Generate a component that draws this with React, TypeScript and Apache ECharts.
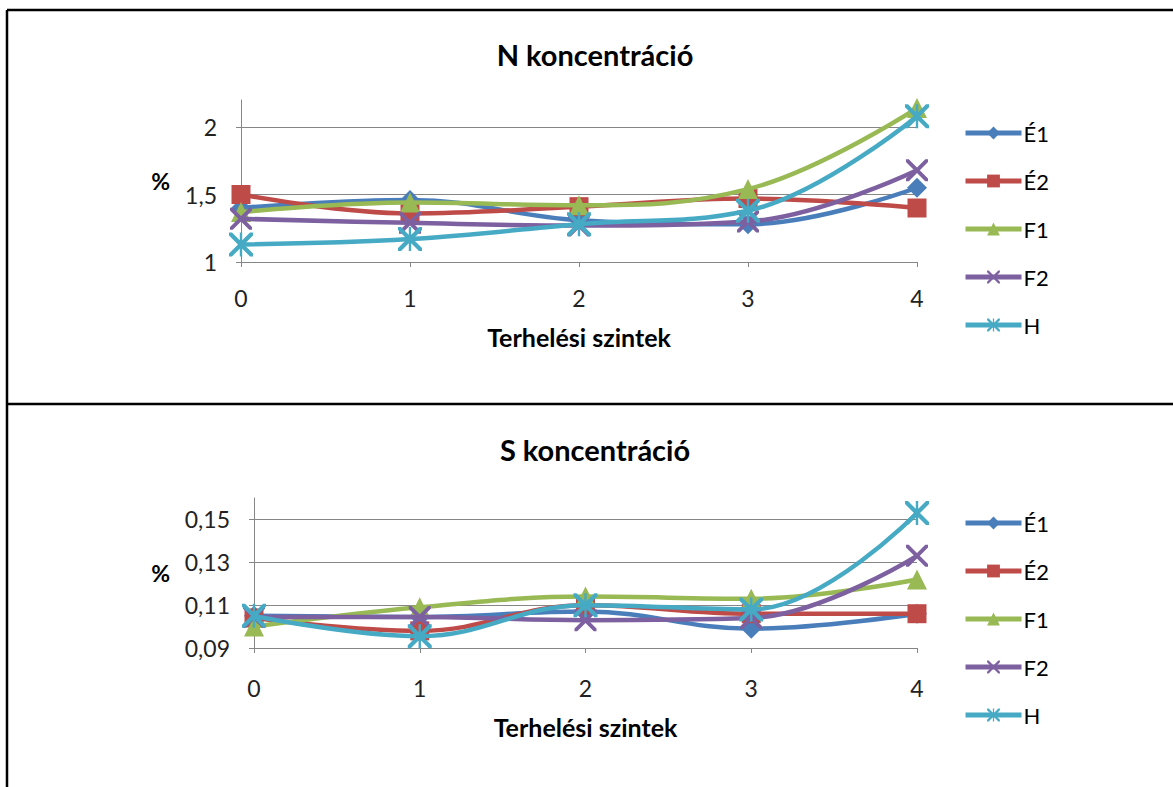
import React, { useEffect, useRef } from "react";
import * as echarts from "echarts";

const levels = ["0", "1", "2", "3", "4"];
const seriesNames = ["É1", "É2", "F1", "F2", "H"];
const colors = ["#4a7ebb", "#be4b48", "#98b954", "#7d60a0", "#46aac5"];

const nE1 = [1.40, 1.46, 1.31, 1.28, 1.55];
const nE2 = [1.50, 1.36, 1.41, 1.47, 1.40];
const nF1 = [1.37, 1.44, 1.42, 1.54, 2.14];
const nF2 = [1.32, 1.29, 1.27, 1.30, 1.68];
const nH = [1.13, 1.17, 1.28, 1.38, 2.08];

const sE1 = [0.105, 0.1045, 0.107, 0.099, 0.106];
const sE2 = [0.104, 0.098, 0.110, 0.106, 0.106];
const sF1 = [0.100, 0.109, 0.114, 0.113, 0.122];
const sF2 = [0.1045, 0.1045, 0.103, 0.104, 0.133];
const sH = [0.105, 0.0955, 0.110, 0.108, 0.153];

const nTitle = "N koncentráció";
const sTitle = "S koncentráció";
const xName = "Terhelési szintek";
const yName = "%";

const FONT = "Lato, 'Open Sans', sans-serif";

const xPath =
  "path://M0,0 L2.5,0 L10,7.5 L17.5,0 L20,0 L20,2.5 L12.5,10 L20,17.5 L20,20 L17.5,20 L10,12.5 L2.5,20 L0,20 L0,17.5 L7.5,10 L0,2.5 Z";
const starPath =
  "path://M0,0 L2.5,0 L10,7.5 L17.5,0 L20,0 L20,2.5 L12.5,10 L20,17.5 L20,20 L17.5,20 L10,12.5 L2.5,20 L0,20 L0,17.5 L7.5,10 L0,2.5 Z M9,0 L11,0 L11,20 L9,20 Z";
const symbols = ["diamond", "rect", "triangle", xPath, starPath];
const symbolSizes = [20, 19, 20, 22, 24];

export default function App() {
  const ref = useRef<HTMLDivElement>(null);
  useEffect(() => {
    if (!ref.current) return;
    const chart = echarts.init(ref.current, undefined, { renderer: "svg" });
    const nData = [nE1, nE2, nF1, nF2, nH];
    const sData = [sE1, sE2, sF1, sF2, sH];
    const mkSeries = (data: number[][], idx: number) =>
      data.map((d, i) => ({
        name: seriesNames[i],
        type: "line",
        xAxisIndex: idx,
        yAxisIndex: idx,
        data: d,
        smooth: 0.4,
        symbol: symbols[i],
        symbolSize: symbolSizes[i],
        lineStyle: { width: 4.5, color: colors[i] },
        itemStyle: { color: colors[i] },
        z: 2 + i,
      }));
    const axisLineStyle = { color: "#868686", width: 1 };
    const xAxisBase = (gi: number, margin: number, nameGap: number) => ({
      type: "category",
      gridIndex: gi,
      data: levels,
      boundaryGap: false,
      axisLine: { show: true, lineStyle: axisLineStyle },
      axisTick: { show: true, length: 5, lineStyle: axisLineStyle },
      axisLabel: { fontFamily: FONT, fontSize: 23, color: "#222", margin },
      name: xName,
      nameLocation: "middle",
      nameGap,
      nameTextStyle: { fontFamily: FONT, fontSize: 25, fontWeight: "bold", color: "#000" },
    });
    const yAxisBase = (gi: number, min: number, max: number, interval: number, d: number, nameGap: number) => ({
      type: "value",
      gridIndex: gi,
      min,
      max,
      interval,
      axisLine: { show: true, lineStyle: axisLineStyle },
      axisTick: { show: true, length: 5, lineStyle: axisLineStyle },
      splitLine: { show: true, showMaxLine: false, lineStyle: { color: "#868686", width: 1 } },
      axisLabel: {
        fontFamily: FONT,
        fontSize: 23,
        color: "#222",
        margin: 24,
        showMaxLabel: false,
        formatter: (v: number) => {
          const s = Number(v.toFixed(d)).toString();
          return s.replace(".", ",");
        },
      },
      name: yName,
      nameLocation: "middle",
      nameRotate: 0,
      nameGap,
      nameTextStyle: { fontFamily: FONT, fontSize: 23, fontWeight: "bold", color: "#000" },
    });
    const legendBase = (top: number) => ({
      orient: "vertical",
      left: 963,
      top,
      padding: 0,
      itemWidth: 56,
      itemHeight: 16,
      itemGap: 26,
      data: seriesNames,
      lineStyle: { width: 5 },
      textStyle: { fontFamily: FONT, fontSize: 22, lineHeight: 22, color: "#000", padding: [0, 0, 0, -3] },
    });
    chart.setOption({
      animation: false,
      backgroundColor: "#fff",
      title: [
        {
          text: nTitle,
          left: 590,
          top: 35,
          textAlign: "center",
          textStyle: { fontFamily: FONT, fontSize: 29, fontWeight: "bold", color: "#000" },
        },
        {
          text: sTitle,
          left: 590,
          top: 430,
          textAlign: "center",
          textStyle: { fontFamily: FONT, fontSize: 29, fontWeight: "bold", color: "#000" },
        },
      ],
      legend: [legendBase(122), legendBase(512)],
      grid: [
        { left: 241, right: 256, top: 100, height: 162 },
        { left: 254, right: 256, top: 498, height: 150 },
      ],
      xAxis: [xAxisBase(0, 24, 62), xAxisBase(1, 28, 66)],
      yAxis: [yAxisBase(0, 1, 2.2, 0.5, 1, 71), yAxisBase(1, 0.09, 0.16, 0.02, 2, 84)],
      series: [...mkSeries(nData, 0), ...mkSeries(sData, 1)],
      graphic: [
        { type: "line", shape: { x1: 7, y1: 10, x2: 1173, y2: 10 }, style: { stroke: "#000", lineWidth: 2.5 } },
        { type: "line", shape: { x1: 7, y1: 10, x2: 7, y2: 787 }, style: { stroke: "#000", lineWidth: 2.5 } },
        { type: "line", shape: { x1: 7, y1: 404, x2: 1173, y2: 404 }, style: { stroke: "#000", lineWidth: 2.5 } },
      ],
    });
    return () => chart.dispose();
  }, []);
  return (
    <div
      ref={ref}
      style={{ position: "fixed", left: 0, top: 0, width: 1173, height: 787, background: "#fff" }}
    />
  );
}
